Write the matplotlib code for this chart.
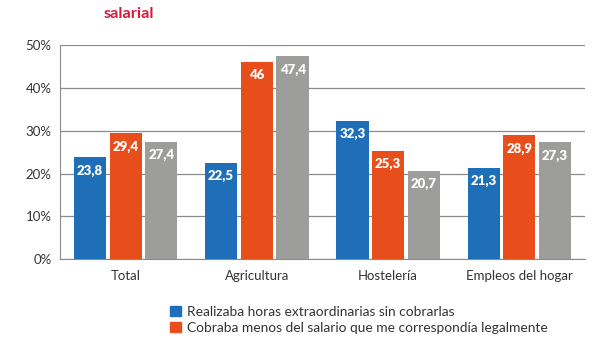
import matplotlib
matplotlib.use('Agg')
import matplotlib.pyplot as plt
from matplotlib.patches import Patch
import numpy as np

plt.rcParams['font.family'] = ['Lato', 'DejaVu Sans']

categories = ['Total', 'Agricultura', 'Hostelería', 'Empleos del hogar']
horas_extra = [23.8, 22.5, 32.3, 21.3]
menos_salario = [29.4, 46, 25.3, 28.9]
tercera_serie = [27.4, 47.4, 20.7, 27.3]
legend_labels = ['Realizaba horas extraordinarias sin cobrarlas',
                 'Cobraba menos del salario que me correspondía legalmente']

blue = '#1f6fb8'
orange = '#e84e1b'
gray = '#9d9d9c'

fig = plt.figure(figsize=(6, 3.37), dpi=100)
ax = fig.add_axes([0.1, 0.231, 0.875, 0.635])

x = np.arange(len(categories))
w = 0.245
step = 0.272
series = [(horas_extra, blue), (menos_salario, orange), (tercera_serie, gray)]
for i, (vals, col) in enumerate(series):
    bars = ax.bar(x + (i - 1) * step, vals, w, color=col, zorder=3)
    for b, v in zip(bars, vals):
        txt = ('%g' % v).replace('.', ',')
        ax.annotate(txt, (b.get_x() + b.get_width() / 2, v), xytext=(0, -9.5),
                    textcoords='offset points', ha='center', va='center',
                    color='white', fontsize=9.5, fontweight='heavy', zorder=4)

ax.set_xlim(-0.5, 3.5)
ax.set_ylim(0, 50)
ax.set_yticks(range(0, 51, 10))
ax.set_yticklabels(['%d%%' % t for t in range(0, 51, 10)])
ax.set_xticks(x)
ax.set_xticklabels(categories)
ax.yaxis.grid(True, color='#8a8a8a', linewidth=0.9, zorder=0)
ax.tick_params(axis='both', length=0, labelsize=9.5, labelcolor='#333333', pad=6)
ax.tick_params(axis='x', pad=8)
for s in ['top', 'right']:
    ax.spines[s].set_visible(False)
ax.spines['left'].set_color('#8a8a8a')
ax.spines['bottom'].set_color('#8a8a8a')

handles = [Patch(color=blue), Patch(color=orange)]
fig.legend(handles, legend_labels, loc='upper left', bbox_to_anchor=(0.262, 0.13),
           frameon=False, fontsize=9.9, handlelength=0.8, handleheight=0.8,
           handletextpad=0.45, labelspacing=0.3, labelcolor='#333333')

fig.text(0.173, 0.957, 'salarial', color='#d7193b', fontsize=11.8, fontweight='bold',
         va='center')

fig.savefig('out.png', dpi=100)
